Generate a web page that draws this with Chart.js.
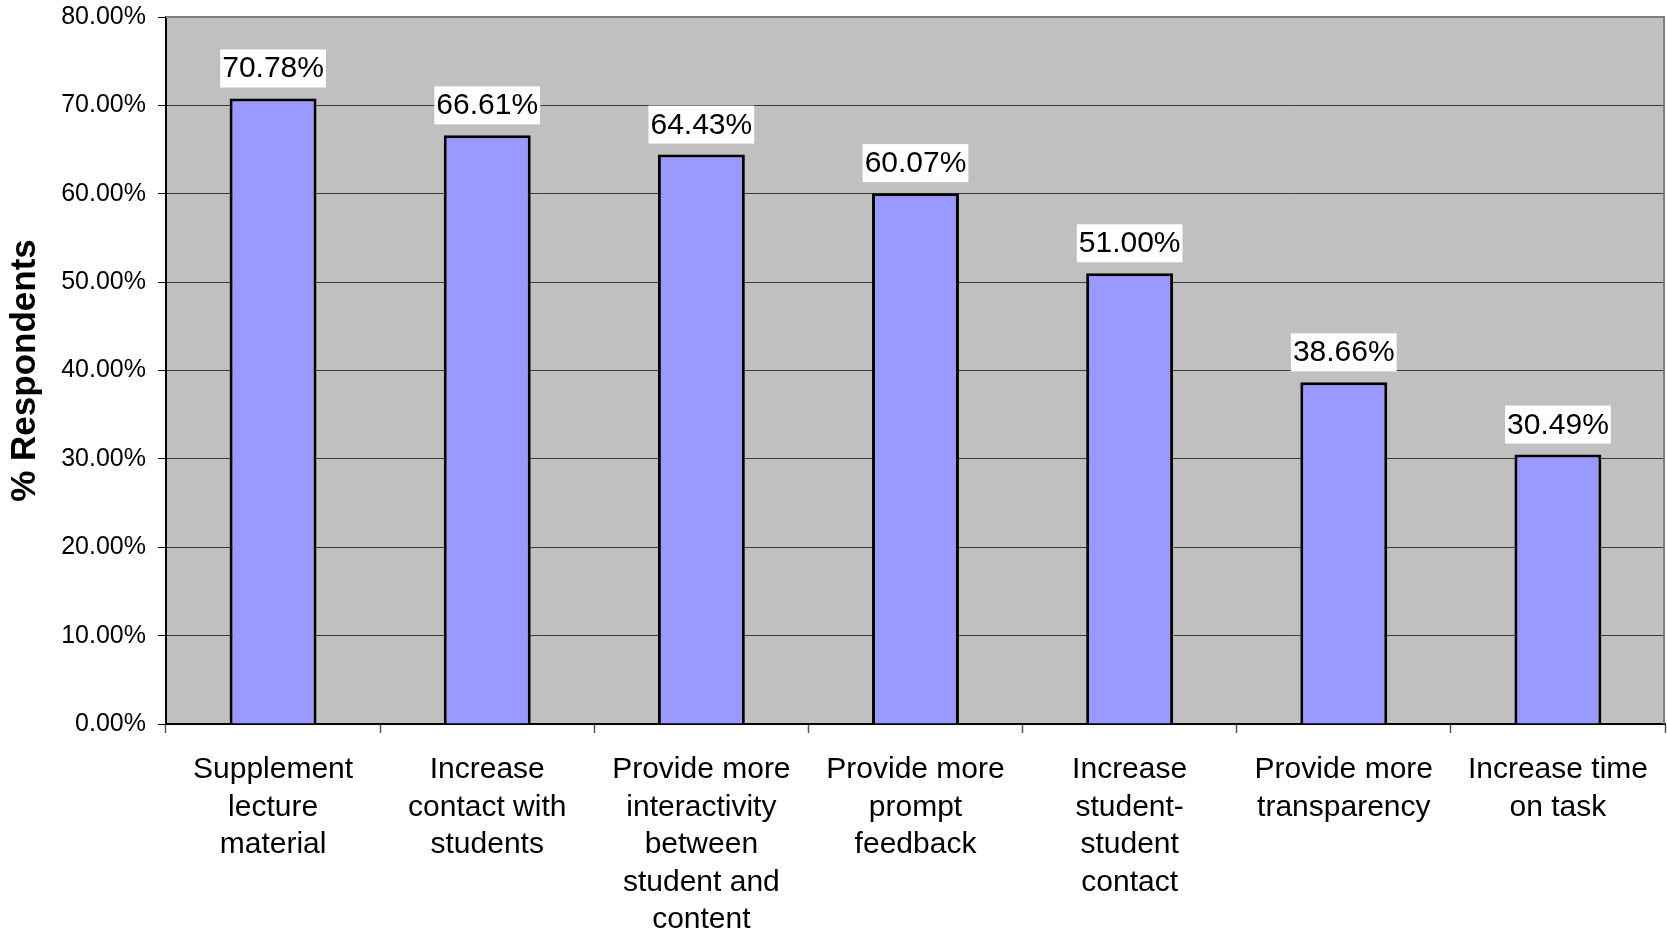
<!DOCTYPE html>
<html>
<head>
<meta charset="utf-8">
<script src="https://cdn.jsdelivr.net/npm/chart.js@4.4.1/dist/chart.umd.min.js"></script>
<style>
  html, body { margin: 0; padding: 0; background: #ffffff; }
  #wrap { width: 1667px; height: 933px; position: relative; }
</style>
</head>
<body>
<div id="wrap"><canvas id="c" width="1667" height="933"></canvas></div>
<script>
const categories = [
  ["Supplement", "lecture", "material"],
  ["Increase", "contact with", "students"],
  ["Provide more", "interactivity", "between", "student and", "content"],
  ["Provide more", "prompt", "feedback"],
  ["Increase", "student-", "student", "contact"],
  ["Provide more", "transparency"],
  ["Increase time", "on task"]
];
const respondents = [70.78, 66.61, 64.43, 60.07, 51.00, 38.66, 30.49];
const yMin = 0, yMax = 80, yStep = 10;
const yTitle = "% Respondents";

const FONT = "'Liberation Sans', Arial, sans-serif";

const plotBg = {
  id: 'plotBg',
  beforeDraw(chart) {
    const {ctx, chartArea: a} = chart;
    ctx.save();
    ctx.fillStyle = '#c0c0c0';
    ctx.fillRect(a.left, a.top, a.right - a.left, a.bottom - a.top);
    ctx.restore();
  },
  afterDraw(chart) {
    const {ctx, chartArea: a} = chart;
    ctx.save();
    ctx.strokeStyle = '#808080';
    ctx.lineWidth = 2;
    ctx.beginPath();
    ctx.moveTo(a.left, a.top);
    ctx.lineTo(a.right - 1, a.top);
    ctx.lineTo(a.right - 1, a.bottom);
    ctx.stroke();
    ctx.restore();
  }
};

const valueLabels = {
  id: 'valueLabels',
  afterDatasetsDraw(chart) {
    const {ctx} = chart;
    const meta = chart.getDatasetMeta(0);
    ctx.save();
    ctx.font = '30px ' + FONT;
    ctx.textAlign = 'center';
    ctx.textBaseline = 'alphabetic';
    meta.data.forEach((bar, i) => {
      const txt = respondents[i].toFixed(2) + '%';
      const w = ctx.measureText(txt).width;
      const top = bar.y;
      ctx.fillStyle = '#ffffff';
      ctx.fillRect(bar.x - w / 2 - 2, top - 49, w + 4, 38);
      ctx.fillStyle = '#000000';
      ctx.fillText(txt, bar.x, top - 21);
    });
    ctx.restore();
  }
};

new Chart(document.getElementById('c'), {
  type: 'bar',
  data: {
    labels: categories,
    datasets: [{
      data: respondents,
      backgroundColor: '#9999ff',
      borderColor: '#000000',
      borderWidth: 3,
      barPercentage: 0.406,
      categoryPercentage: 1.0
    }]
  },
  options: {
    responsive: false,
    animation: false,
    devicePixelRatio: 1,
    layout: { padding: { top: 17, right: 2, left: 0, bottom: 0 } },
    plugins: {
      legend: { display: false },
      tooltip: { enabled: false }
    },
    scales: {
      x: {
        grid: {
          offset: true,
          drawOnChartArea: false,
          drawTicks: true,
          tickLength: 9,
          tickColor: '#555555',
          tickWidth: 1.5
        },
        border: { display: true, color: '#000000', width: 2 },
        ticks: {
          color: '#000000',
          font: { family: FONT, size: 30, lineHeight: 1.25 },
          padding: 18,
          maxRotation: 0,
          autoSkip: false
        },
        afterFit(scale) { scale.height = 209; scale.paddingLeft = 0; scale.paddingRight = 0; }
      },
      y: {
        min: yMin,
        max: yMax,
        grid: {
          color: '#3a3a3a',
          lineWidth: 1,
          drawTicks: true,
          tickLength: 8,
          tickColor: '#000000'
        },
        border: { display: true, color: '#000000', width: 2 },
        ticks: {
          stepSize: yStep,
          color: '#000000',
          font: { family: FONT, size: 25 },
          padding: 12,
          callback: v => v.toFixed(2) + '%'
        },
        title: {
          display: true,
          text: yTitle,
          color: '#000000',
          font: { family: FONT, size: 35, weight: 'bold' },
          padding: { top: 4, bottom: 0 }
        },
        afterFit(scale) { scale.width = 166; scale.paddingTop = 0; scale.paddingBottom = 0; }
      }
    }
  },
  plugins: [plotBg, valueLabels]
});
</script>
</body>
</html>
